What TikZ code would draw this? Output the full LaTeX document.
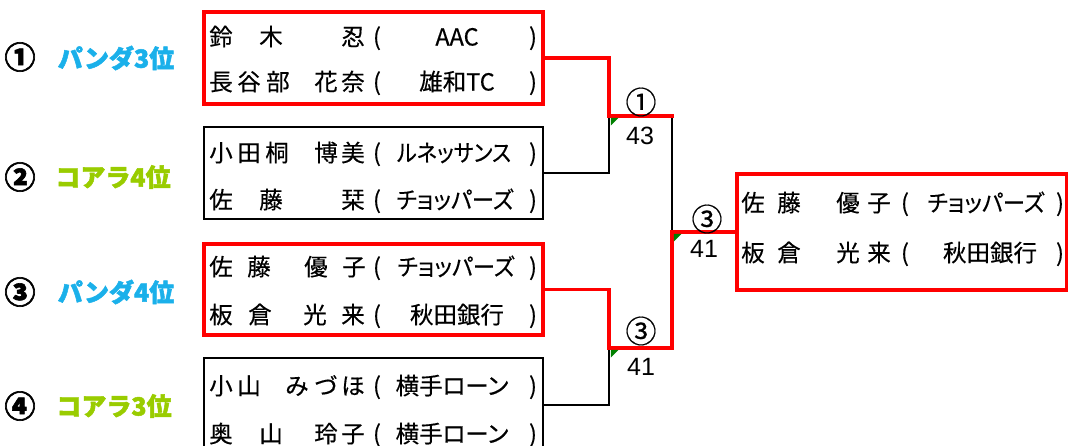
\documentclass[tikz,border=0pt]{standalone}
\usepackage{fontspec}
\usepackage{graphicx}
\setmainfont{Noto Sans CJK JP}
\newfontfamily\jp{Noto Sans CJK JP}[FakeBold=0.4]
\newfontfamily\jpp{Noto Sans CJK JP}[RawFeature=+palt,FakeBold=0.4]
\newfontfamily\jpb{Noto Sans CJK JP}[BoldFeatures={FakeBold=2}]
\newfontfamily\arialf{Liberation Sans}
\definecolor{panda}{HTML}{1AB0EA}
\definecolor{koala}{HTML}{99CC00}
\definecolor{xlred}{HTML}{FF0000}
\definecolor{xlgreen}{HTML}{008000}
\tikzset{
  ch/.style={font=\jp\fontsize{23.5}{23.5}\selectfont, inner sep=0pt, text height=19pt, text depth=2pt},
  team/.style={ch, font=\jpp\fontsize{23.5}{23.5}\selectfont},
  redbox/.style={draw=xlred, line width=3.4pt, inner sep=0pt, outer sep=0pt},
  blkbox/.style={draw=black, line width=2.2pt, inner sep=0pt, outer sep=0pt},
  redline/.style={draw=xlred, line width=3.6pt, line cap=rect, line join=miter},
  blkline/.style={draw=black, line width=2.3pt, line cap=rect, line join=miter},
  tri/.style={fill=xlgreen},
  circnum/.style={font=\jp\fontsize{31}{31}\selectfont, inner sep=0pt},
  score/.style={font=\arialf\fontsize{25}{25}\selectfont, inner sep=0pt},
  lnum/.style={font=\jpb\bfseries\fontsize{31}{31}\selectfont, inner sep=0pt},
  pop/.style={font=\jpb\bfseries\fontsize{25}{25}\selectfont, inner sep=0pt}
}
\newcommand\brow[7]{%
  \foreach \c/\x in {#3} \node[ch] (#1-\x) at (\x,#2) {\c};
  \node[ch] (#1-op) at (#6,#2) {(};
  \node[team] (#1-tm) at (#5,#2) {#4};
  \node[ch] (#1-cp) at (#7,#2) {)};
}
\begin{document}
\begin{tikzpicture}[x=1pt,y=-1pt]
\useasboundingbox (0,0) rectangle (1068,445);

% boxes
\node[redbox, minimum width=339pt, minimum height=92pt] (b1) at (373.5,58) {};
\node[blkbox, minimum width=339pt, minimum height=92pt] (b2) at (373.5,173) {};
\node[redbox, minimum width=339pt, minimum height=91pt] (b3) at (373.5,289.5) {};
\node[blkbox, minimum width=339pt, minimum height=94pt] (b4) at (373.5,405) {};
\node[redbox, minimum width=330pt, minimum height=116pt] (rb) at (902,232) {};

% junctions
\coordinate (j1) at (609,116);
\coordinate (j1r) at (672,116);
\coordinate (j2) at (609,348);
\coordinate (j2r) at (672,348);
\coordinate (j3) at (672,232);

% connectors
\draw[blkline] (b2.east) -| (j1);
\draw[blkline] (j1r) -- (j3);
\draw[blkline] (b4.east) -| (j2);
\draw[redline] (b1.east) -| (j1) -- (j1r);
\draw[redline] (b3.east) -| (j2) -- (j2r) -- (j3) -- (rb.west);

% green markers
\fill[tri, shift={(j1)}] (1.8,1.8) -- (9.5,1.8) -- (1.8,9.5) -- cycle;
\fill[tri, shift={(j2)}] (1.8,1.8) -- (9.5,1.8) -- (1.8,9.5) -- cycle;
\fill[tri, shift={(j3)}] (1.8,1.8) -- (9.5,1.8) -- (1.8,9.5) -- cycle;

% scores
\node[circnum] (s1a) at (641,102) {①};
\node[score] (s1b) at (640,136) {43};
\node[circnum] (s2a) at (641,331) {③};
\node[score] (s2b) at (641,367) {41};
\node[circnum] (s3a) at (707,219) {③};
\node[score] (s3b) at (704,249) {41};

% left labels
\node[lnum] (l1n) at (20,57) {①};
\node[pop, text=panda] (l1) at (116,58) {パンダ3位};
\node[lnum] (l2n) at (20,177) {②};
\node[pop, text=koala] (l2) at (113,177) {コアラ4位};
\node[lnum] (l3n) at (20,292) {③};
\node[pop, text=panda] (l3) at (116,292) {パンダ4位};
\node[lnum] (l4n) at (20,406) {④};
\node[pop, text=koala] (l4) at (114,406) {コアラ3位};

% entries
\brow{ra}{37}{鈴/221,木/271,忍/353}{AAC}{457}{377}{533}
\brow{rb}{82}{長/221,谷/249,部/278,花/326,奈/353}{雄和TC}{457}{377}{533}
\brow{rc}{153}{小/221,田/249,桐/277,博/326,美/353}{\scalebox{0.9}[1]{ルネッサンス}}{454}{377}{533}
\brow{rd}{200}{佐/221,藤/271,栞/353}{\scalebox{0.95}[1]{チョッパーズ}}{455}{377}{533}
\brow{re}{267}{佐/221,藤/259,優/316,子/354}{\scalebox{0.95}[1]{チョッパーズ}}{456}{377}{533}
\brow{rf}{315}{板/221,倉/260,光/315,来/353}{秋田銀行}{457}{377}{533}
\brow{rg}{386}{小/221,山/249,み/297,づ/326,ほ/353}{横手ローン}{452}{377}{533}
\brow{rh}{434}{奥/221,山/271,玲/326,子/353}{横手ローン}{452}{377}{533}
\brow{ri}{203}{佐/753,藤/789,優/848,子/879}{\scalebox{0.95}[1]{チョッパーズ}}{986}{905}{1060}
\brow{rj}{253}{板/753,倉/789,光/848,来/879}{秋田銀行}{990}{905}{1060}
\end{tikzpicture}
\end{document}
